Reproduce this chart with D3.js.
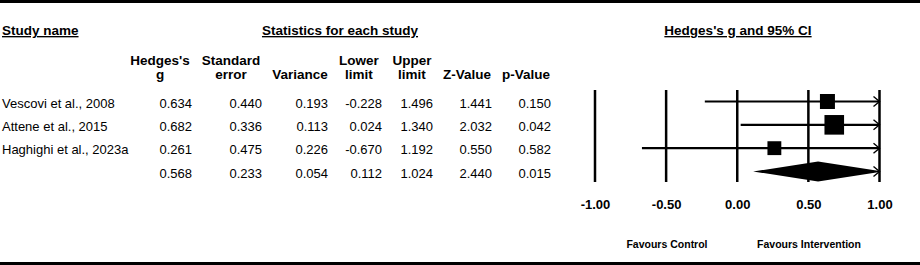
<!DOCTYPE html>
<html>
<head>
<meta charset="utf-8">
<script src="https://cdn.jsdelivr.net/npm/d3@7"></script>
<style>
  body { margin: 0; background: #fff; }
  text { font-family: "Liberation Sans", Arial, sans-serif; fill: #000; }
</style>
</head>
<body>
<div id="forest"></div>
<script>
// Study data
var studies = ["Vescovi et al., 2008", "Attene et al., 2015", "Haghighi et al., 2023a", ""];
var hedgesG = [0.634, 0.682, 0.261, 0.568];
var stdErr = [0.440, 0.336, 0.475, 0.233];
var variance = [0.193, 0.113, 0.226, 0.054];
var lowerLimit = [-0.228, 0.024, -0.670, 0.112];
var upperLimit = [1.496, 1.340, 1.192, 1.024];
var zValue = [1.441, 2.032, 0.550, 2.440];
var pValue = [0.150, 0.042, 0.582, 0.015];
var isSummary = [false, false, false, true];

var columnHeaders = [["Hedges's", "g"], ["Standard", "error"], ["", "Variance"],
                     ["Lower", "limit"], ["Upper", "limit"], ["", "Z-Value"], ["", "p-Value"]];
var tickValues = [-1.00, -0.50, 0.00, 0.50, 1.00];

var data = studies.map(function(s, i) {
    return {
        name: s, g: hedgesG[i], se: stdErr[i], v: variance[i],
        lo: lowerLimit[i], hi: upperLimit[i], z: zValue[i], p: pValue[i],
        summary: isSummary[i]
    };
});

var width = 920, height = 265;

var svg = d3.select("#forest")
  .append("svg")
    .attr("width", width)
    .attr("height", height);

// Frame lines top and bottom
svg.append("rect").attr("x", 0).attr("y", 0).attr("width", width).attr("height", 3).attr("fill", "#000");
svg.append("rect").attr("x", 0).attr("y", 262).attr("width", width).attr("height", 3).attr("fill", "#000");

// Row positions
var y = d3.scalePoint()
    .domain(d3.range(data.length))
    .range([101.5, 171.5]);

// Section titles
svg.append("text").attr("x", 2).attr("y", 35)
    .style("font-size", "13.5px").style("font-weight", "bold")
    .style("text-decoration", "underline")
    .text("Study name");
svg.append("text").attr("x", 340).attr("y", 35).attr("text-anchor", "middle")
    .style("font-size", "13.5px").style("font-weight", "bold")
    .style("text-decoration", "underline")
    .text("Statistics for each study");
svg.append("text").attr("x", 738).attr("y", 35).attr("text-anchor", "middle")
    .style("font-size", "13.5px").style("font-weight", "bold")
    .style("text-decoration", "underline")
    .text("Hedges's g and 95% CI");

// Table columns
var colCenter = [160, 231, 300, 359, 412, 467, 526];
var colRight = [192, 262, 328, 382, 433, 492, 551];
var fields = ["g", "se", "v", "lo", "hi", "z", "p"];

columnHeaders.forEach(function(h, c) {
    h.forEach(function(line, k) {
        if (!line) return;
        svg.append("text")
            .attr("x", colCenter[c]).attr("y", 65 + k * 14)
            .attr("text-anchor", "middle")
            .style("font-size", "13.5px").style("font-weight", "bold")
            .text(line);
    });
});

var rows = svg.append("g").selectAll("g.row")
  .data(data)
  .enter()
  .append("g")
    .attr("class", "row")
    .attr("transform", function(d, i) { return `translate(0,${y(i) + 6})`; });

rows.append("text")
    .attr("x", 2)
    .style("font-size", "13px")
    .text(function(d) { return d.name; });

fields.forEach(function(f, c) {
    rows.append("text")
        .attr("x", colRight[c])
        .attr("text-anchor", "end")
        .style("font-size", "13px")
        .text(function(d) { return d3.format(".3f")(d[f]).replace("−", "-"); });
});

// Forest plot
var x = d3.scaleLinear()
    .domain([-1, 1])
    .range([595, 879.5]);

var size = d3.scaleSqrt()
    .domain([0, 1 / d3.min(variance.slice(0, 3))])
    .range([0, 19.6]);

var plot = svg.append("g");

// Vertical reference lines
plot.selectAll("line.grid")
  .data(tickValues)
  .enter()
  .append("line")
    .attr("x1", function(d) { return x(d); })
    .attr("x2", function(d) { return x(d); })
    .attr("y1", 90).attr("y2", 182)
    .attr("stroke", "#000").attr("stroke-width", 2.5);

// Tick labels
var axis = d3.axisBottom(x)
    .tickValues(tickValues)
    .tickSize(0)
    .tickPadding(0)
    .tickFormat(function(d) { return d3.format(".2f")(d).replace("−", "-"); });
var axisG = plot.append("g")
    .attr("transform", "translate(0,200)")
    .call(axis);
axisG.select(".domain").remove();
axisG.selectAll("text")
    .style("font-size", "13px").style("font-weight", "bold")
    .style("font-family", "'Liberation Sans', Arial, sans-serif");

// CI lines, clipped at the axis limits with arrows
var xmin = x.domain()[0], xmax = x.domain()[1];
var studyRows = data.filter(function(d) { return !d.summary; });

plot.selectAll("line.ci")
  .data(studyRows)
  .enter()
  .append("line")
    .attr("x1", function(d) { return x(Math.max(d.lo, xmin)); })
    .attr("x2", function(d) { return x(Math.min(d.hi, xmax)); })
    .attr("y1", function(d, i) { return y(i); })
    .attr("y2", function(d, i) { return y(i); })
    .attr("stroke", "#000").attr("stroke-width", 2.2);

plot.selectAll("rect.box")
  .data(studyRows)
  .enter()
  .append("rect")
    .attr("x", function(d) { return x(d.g) - size(1 / d.v) / 2; })
    .attr("y", function(d, i) { return y(i) - size(1 / d.v) / 2; })
    .attr("width", function(d) { return size(1 / d.v); })
    .attr("height", function(d) { return size(1 / d.v); })
    .attr("fill", "#000");

// Summary diamond
var summary = data.filter(function(d) { return d.summary; });
plot.selectAll("path.diamond")
  .data(summary)
  .enter()
  .append("path")
    .attr("d", function(d) {
        var cy = y(data.indexOf(d));
        var lo = x(Math.max(d.lo, xmin)), hi = x(d.hi), mid = x(d.g);
        var hiC = x(Math.min(d.hi, xmax));
        // half height tapering toward the clipped right end
        var hh = 10;
        var hAtClip = hh * (hi - hiC) / (hi - mid);
        return `M${lo},${cy} L${mid},${cy - hh} L${hiC},${cy - hAtClip} L${hiC},${cy + hAtClip} L${mid},${cy + hh} Z`;
    })
    .attr("fill", "#000");

// Arrow heads where intervals run past the right limit
plot.selectAll("path.arrow")
  .data(data.filter(function(d) { return d.hi > xmax; }))
  .enter()
  .append("path")
    .attr("d", function(d) {
        var cy = y(data.indexOf(d)), ax = x(xmax);
        return `M${ax - 6},${cy - 5} L${ax},${cy} L${ax - 6},${cy + 5}`;
    })
    .attr("fill", "none").attr("stroke", "#000").attr("stroke-width", 1.4);

// Favours labels
plot.append("text").attr("x", 667).attr("y", 248).attr("text-anchor", "middle")
    .style("font-size", "10.5px").style("font-weight", "bold")
    .text("Favours Control");
plot.append("text").attr("x", 809).attr("y", 248).attr("text-anchor", "middle")
    .style("font-size", "10.5px").style("font-weight", "bold")
    .text("Favours Intervention");
</script>
</body>
</html>
